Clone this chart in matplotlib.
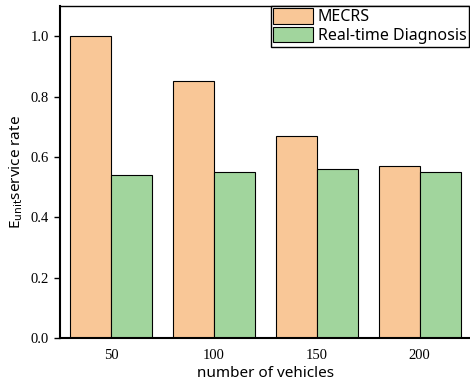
import numpy as np
import matplotlib
matplotlib.use("Agg")
import matplotlib.pyplot as plt

# service rate per fleet size
vehicles = ["50", "100", "150", "200"]
mecrs = [1.0, 0.85, 0.67, 0.57]
realtime = [0.54, 0.55, 0.56, 0.55]
yticks = [0.0, 0.2, 0.4, 0.6, 0.8, 1.0]

fig = plt.figure(figsize=(4.7, 3.88), dpi=100)
ax = fig.add_axes([60 / 470, 50 / 388, 411 / 470, 332 / 388])

x = np.arange(len(vehicles))
w = 0.4
ax.bar(x - w / 2, mecrs, w, color="#F9C797", edgecolor="black", linewidth=0.8, label="MECRS")
ax.bar(x + w / 2, realtime, w, color="#A1D59D", edgecolor="black", linewidth=0.8,
       label="Real-time Diagnosis")

ax.set_xlim(-0.5, 3.5)
ax.set_ylim(0, 1.1)
ax.set_xticks(x)
ax.set_xticklabels(vehicles, family="Liberation Serif", fontsize=10.5)
ax.set_yticks(yticks)
ax.set_yticklabels(["%.1f" % v for v in yticks], family="Liberation Serif", fontsize=10.5)
ax.tick_params(axis="x", length=0, pad=8)
ax.tick_params(axis="y", direction="out", length=4, width=1, pad=4)

for s in ["left", "bottom"]:
    ax.spines[s].set_linewidth(1.5)
ax.spines["top"].set_linewidth(1.0)
ax.spines["right"].set_visible(False)

ax.set_xlabel("number of vehicles", family="Noto Sans", fontsize=11, labelpad=3)
ax.set_ylabel(r"E$_{\mathrm{unit}}$service rate", family="Noto Sans", fontsize=11, labelpad=4)

leg = ax.legend(loc="upper right", bbox_to_anchor=(0.995, 1.0), prop={"family": "Noto Sans", "size": 11.5},
                frameon=True, fancybox=False, edgecolor="black", framealpha=1,
                borderpad=0.15, handlelength=2.5, handleheight=1.1, handletextpad=0.3,
                labelspacing=0.1, borderaxespad=0)
leg.get_frame().set_linewidth(1.0)

fig.savefig("out.png", dpi=100)
